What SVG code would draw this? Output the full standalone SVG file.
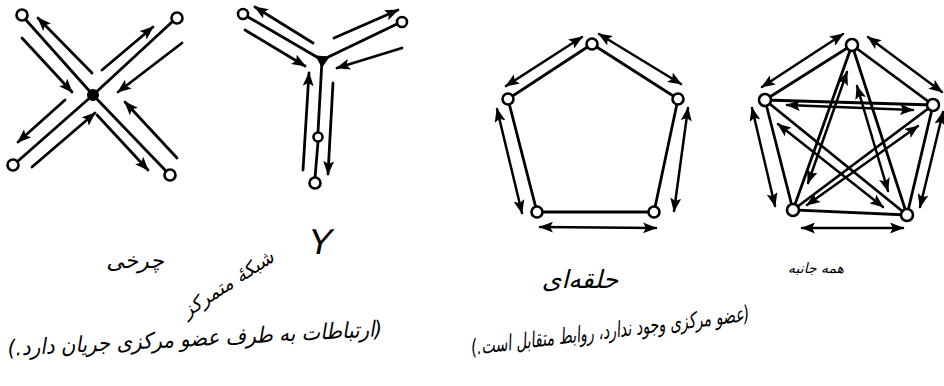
<svg xmlns="http://www.w3.org/2000/svg" width="944" height="386" viewBox="0 0 944 386">
<style>
.e{stroke:#000;stroke-width:2.8;fill:none;stroke-linecap:round}
.a{stroke:#000;stroke-width:2.8;fill:none;stroke-linecap:round;marker-end:url(#ah)}
.d{stroke:#000;stroke-width:2.5;fill:none;stroke-linecap:round;marker-start:url(#ah);marker-end:url(#ah)}
.n{fill:#fff;stroke:#000;stroke-width:2.6}
.h{fill:#000;stroke:#000;stroke-width:1}
.t{font-family:"DejaVu Sans","Noto Sans",sans-serif;fill:#000;font-style:italic}
</style>
<defs>
<marker id="ah" markerUnits="userSpaceOnUse" markerWidth="15" markerHeight="11" refX="13" refY="5.5" viewBox="0 0 15 11" orient="auto-start-reverse">
<path d="M0,0 L14,5.5 L0,11 L3,5.5 z" fill="#000"/>
</marker>
</defs>
<rect width="944" height="386" fill="#fff"/>

<g id="connectors">
<!-- X (wheel) -->
<line class="e" x1="26" y1="20" x2="93" y2="95"/>
<line class="e" x1="172" y1="22" x2="93" y2="95"/>
<line class="e" x1="18" y1="161" x2="93" y2="95"/>
<line class="e" x1="165" y1="170" x2="93" y2="95"/>
<line class="a" x1="92" y1="73" x2="38" y2="18"/>
<line class="a" x1="22" y1="38" x2="72" y2="92"/>
<line class="a" x1="102" y1="70" x2="153" y2="27"/>
<line class="a" x1="182" y1="43" x2="118" y2="92"/>
<line class="a" x1="65" y1="100" x2="18" y2="142"/>
<line class="a" x1="32" y1="167" x2="95" y2="113"/>
<line class="a" x1="97" y1="115" x2="148" y2="170"/>
<line class="a" x1="177" y1="158" x2="125" y2="102"/>
<!-- Y -->
<line class="e" x1="248" y1="17" x2="322" y2="60"/>
<line class="e" x1="397" y1="24" x2="322" y2="60"/>
<line class="e" x1="322" y1="60" x2="318" y2="132"/>
<line class="e" x1="318" y1="142" x2="315" y2="178"/>
<line class="a" x1="313" y1="43" x2="255" y2="7"/>
<line class="a" x1="245" y1="30" x2="305" y2="66"/>
<line class="a" x1="334" y1="38" x2="398" y2="10"/>
<line class="a" x1="402" y1="48" x2="337" y2="68"/>
<line class="a" x1="303" y1="170" x2="309" y2="73"/>
<line class="a" x1="333" y1="83" x2="328" y2="174"/>
<!-- ring -->
<polygon class="e" points="592,44 678,99 654,212 537,212 508,99"/>
<line class="d" x1="506" y1="86" x2="582" y2="37"/>
<line class="d" x1="599" y1="34" x2="681" y2="84"/>
<line class="d" x1="688" y1="108" x2="674" y2="211"/>
<line class="d" x1="497" y1="109" x2="522" y2="213"/>
<line class="d" x1="540" y1="227" x2="656" y2="228"/>
<!-- all-channel -->
<polygon class="e" points="852,45 933,105 907,215 793,210 765,100"/>
<line class="e" x1="765" y1="100" x2="933" y2="105"/>
<line class="e" x1="852" y1="45" x2="793" y2="210"/>
<line class="e" x1="852" y1="45" x2="907" y2="215"/>
<line class="e" x1="765" y1="100" x2="907" y2="215"/>
<line class="e" x1="933" y1="105" x2="793" y2="210"/>
<line class="d" x1="762" y1="87" x2="843" y2="34"/>
<line class="d" x1="868" y1="37" x2="942" y2="92"/>
<line class="d" x1="752" y1="108" x2="775" y2="206"/>
<line class="d" x1="943" y1="112" x2="920" y2="207"/>
<line class="d" x1="802" y1="228" x2="903" y2="228"/>
<line class="d" x1="787" y1="105" x2="913" y2="110"/>
<line class="d" x1="847" y1="72" x2="808" y2="183"/>
<line class="d" x1="857" y1="86" x2="888" y2="191"/>
<line class="d" x1="778" y1="124" x2="883" y2="207"/>
<line class="d" x1="918" y1="126" x2="807" y2="205"/>
</g>

<g id="wheel-hub"><circle class="h" cx="93" cy="95" r="5.5"/></g>
<g id="wheel-tl"><circle class="n" cx="22" cy="15" r="5.5"/></g>
<g id="wheel-tr"><circle class="n" cx="177" cy="18" r="5.5"/></g>
<g id="wheel-bl"><circle class="n" cx="13" cy="165" r="5.5"/></g>
<g id="wheel-br"><circle class="n" cx="170" cy="175" r="5.5"/></g>

<g id="y-hub"><path class="h" d="M316,56 L329,57 L322,67 z"/></g>
<g id="y-tl"><circle class="n" cx="243" cy="14" r="5"/></g>
<g id="y-tr"><circle class="n" cx="402" cy="22" r="5"/></g>
<g id="y-mid"><circle class="n" cx="318" cy="137" r="4.5"/></g>
<g id="y-bottom"><circle class="n" cx="315" cy="183" r="5.5"/></g>

<g id="ring-top"><circle class="n" cx="592" cy="44" r="5.5"/></g>
<g id="ring-right"><circle class="n" cx="678" cy="99" r="5.5"/></g>
<g id="ring-br"><circle class="n" cx="654" cy="212" r="5.5"/></g>
<g id="ring-bl"><circle class="n" cx="537" cy="212" r="5.5"/></g>
<g id="ring-left"><circle class="n" cx="508" cy="99" r="5.5"/></g>

<g id="all-top"><circle class="n" cx="852" cy="45" r="6"/></g>
<g id="all-right"><circle class="n" cx="933" cy="105" r="6"/></g>
<g id="all-br"><circle class="n" cx="907" cy="215" r="6"/></g>
<g id="all-bl"><circle class="n" cx="793" cy="210" r="6"/></g>
<g id="all-left"><circle class="n" cx="765" cy="100" r="6"/></g>

<g id="labels">
<text class="t" x="135" y="268" font-size="22" text-anchor="middle" direction="rtl">چرخی</text>
<text x="318" y="254" font-family="Liberation Sans, sans-serif" font-size="36" text-anchor="middle" transform="skewX(-12) translate(54,0)">Y</text>
<text class="t" x="228" y="290" font-size="19" text-anchor="middle" direction="rtl" transform="rotate(-33 228 284)">شبکهٔ متمرکز</text>
<text class="t" x="195" y="346" font-size="22" text-anchor="middle" direction="rtl" textLength="375" lengthAdjust="spacingAndGlyphs" transform="rotate(-3 195 340)">(ارتباطات به طرف عضو مرکزی جریان دارد.)</text>
<text class="t" x="580" y="288" font-size="25" text-anchor="middle" direction="rtl">حلقه‌ای</text>
<text class="t" x="816" y="273" font-size="14" text-anchor="middle" direction="rtl">همه جانبه</text>
<text class="t" x="610" y="338" font-size="22" text-anchor="middle" direction="rtl" textLength="280" lengthAdjust="spacingAndGlyphs" transform="rotate(-7 610 330)">(عضو مرکزی وجود ندارد، روابط متقابل است.)</text>
</g>
</svg>
